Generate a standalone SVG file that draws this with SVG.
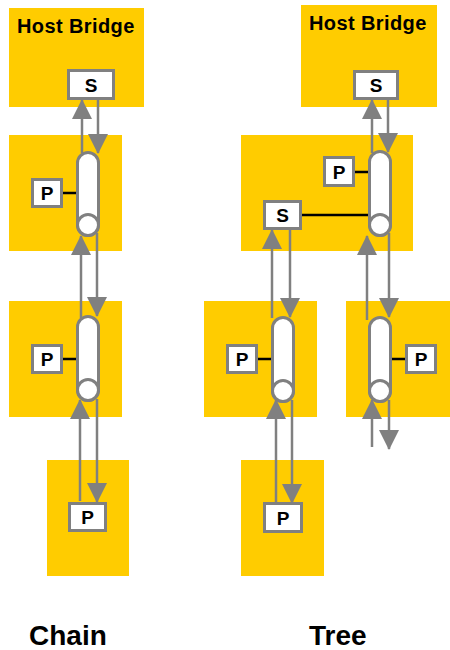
<svg xmlns="http://www.w3.org/2000/svg" width="450" height="650" viewBox="0 0 450 650">
<defs>
<style>
.panel{fill:#FFCC00;stroke:none}
.box{fill:#fff;stroke:#808080;stroke-width:3}
.cyl{fill:#fff;stroke:#808080;stroke-width:3}
.lbl{font-family:"Liberation Sans",Arial,sans-serif;font-weight:bold;fill:#000}
.bt{font-size:19px;text-anchor:middle}
.hb{font-size:20px;letter-spacing:0.4px}
.cap{font-size:28px}
.wire{stroke:#000;stroke-width:2.5;fill:none}
.conn{stroke:#808080;stroke-width:2.5;fill:none;marker-end:url(#ah)}
</style>
<marker id="ah" markerUnits="userSpaceOnUse" markerWidth="20" markerHeight="20" refX="19" refY="10" orient="auto">
<path d="M0,0 L20,10 L0,20 z" fill="#808080"/>
</marker>
</defs>
<rect width="450" height="650" fill="#fff"/>

<!-- panels -->
<g id="chain-host"><rect class="panel" x="9" y="8" width="135" height="99"/><text class="lbl hb" x="17" y="33">Host Bridge</text></g>
<g id="chain-dev1"><rect class="panel" x="9" y="135" width="113" height="116"/></g>
<g id="chain-dev2"><rect class="panel" x="9" y="301" width="113" height="116"/></g>
<g id="chain-dev3"><rect class="panel" x="47" y="460" width="82" height="116"/></g>
<g id="tree-host"><rect class="panel" x="301" y="5" width="136" height="102"/><text class="lbl hb" x="309" y="30">Host Bridge</text></g>
<g id="tree-switch"><rect class="panel" x="241" y="135" width="172" height="116"/></g>
<g id="tree-left"><rect class="panel" x="204" y="301" width="113" height="116"/></g>
<g id="tree-right"><rect class="panel" x="346" y="301" width="104" height="116"/></g>
<g id="tree-leaf"><rect class="panel" x="241" y="460" width="83" height="116"/></g>

<!-- wires from P/S to buses -->
<g id="wires">
<line class="wire" x1="63" y1="193" x2="78" y2="193"/>
<line class="wire" x1="63" y1="359" x2="78" y2="359"/>
<line class="wire" x1="355" y1="172" x2="370" y2="172"/>
<line class="wire" x1="302" y1="215" x2="370" y2="215"/>
<line class="wire" x1="258" y1="359" x2="273" y2="359"/>
<line class="wire" x1="390" y1="359" x2="405" y2="359"/>
</g>

<!-- chain nodes -->
<g id="chain-host-s"><rect class="box" x="68.5" y="70.5" width="45" height="28"/><text class="lbl bt" x="91" y="91.5">S</text></g>
<g id="chain-bus1"><rect class="cyl" x="77.5" y="152.5" width="21" height="83" rx="10.5"/><circle class="cyl" cx="88" cy="225" r="10.5"/></g>
<g id="chain-p1"><rect class="box" x="32.5" y="179.5" width="29" height="27"/><text class="lbl bt" x="47" y="200">P</text></g>
<g id="chain-bus2"><rect class="cyl" x="77.5" y="316.5" width="21" height="84" rx="10.5"/><circle class="cyl" cx="88" cy="390" r="10.5"/></g>
<g id="chain-p2"><rect class="box" x="32.5" y="345.5" width="29" height="27"/><text class="lbl bt" x="47" y="366">P</text></g>
<g id="chain-p3"><rect class="box" x="69.5" y="503.5" width="36" height="27"/><text class="lbl bt" x="87.5" y="524">P</text></g>

<!-- tree nodes -->
<g id="tree-host-s"><rect class="box" x="354.5" y="71.5" width="43" height="27"/><text class="lbl bt" x="376" y="91.5">S</text></g>
<g id="tree-bus-a"><rect class="cyl" x="369.5" y="151.5" width="21" height="84" rx="10.5"/><circle class="cyl" cx="380" cy="225" r="10.5"/></g>
<g id="tree-p-a"><rect class="box" x="324.5" y="157.5" width="29" height="28"/><text class="lbl bt" x="339" y="178.5">P</text></g>
<g id="tree-s-a"><rect class="box" x="264.5" y="201.5" width="36" height="27"/><text class="lbl bt" x="282.5" y="222">S</text></g>
<g id="tree-bus-l"><rect class="cyl" x="272.5" y="317.5" width="21" height="84" rx="10.5"/><circle class="cyl" cx="283" cy="391" r="10.5"/></g>
<g id="tree-p-l"><rect class="box" x="227.5" y="345.5" width="29" height="27"/><text class="lbl bt" x="242" y="366">P</text></g>
<g id="tree-bus-r"><rect class="cyl" x="369.5" y="317.5" width="21" height="84" rx="10.5"/><circle class="cyl" cx="380" cy="391" r="10.5"/></g>
<g id="tree-p-r"><rect class="box" x="406.5" y="345.5" width="29" height="27"/><text class="lbl bt" x="421" y="366">P</text></g>
<g id="tree-p-leaf"><rect class="box" x="264.5" y="503.5" width="37" height="28"/><text class="lbl bt" x="283" y="524.5">P</text></g>

<!-- connectors -->
<g id="connectors">
<path class="conn" d="M82,153 L82,100"/>
<path class="conn" d="M98,100 L98,153"/>
<path class="conn" d="M97,233 L97,316"/>
<path class="conn" d="M81,318 L81,236"/>
<path class="conn" d="M97,399 L97,502"/>
<path class="conn" d="M80,501 L80,400"/>

<path class="conn" d="M372,153 L372,100"/>
<path class="conn" d="M388,100 L388,152"/>
<path class="conn" d="M272,318 L272,230"/>
<path class="conn" d="M290,230 L290,317"/>
<path class="conn" d="M367,320 L367,236"/>
<path class="conn" d="M389,233 L389,317"/>
<path class="conn" d="M276,502 L276,400"/>
<path class="conn" d="M292,400 L292,503"/>
<path class="conn" d="M372,447 L372,400"/>
<path class="conn" d="M389,400 L389,449"/>
</g>

<g id="captions">
<text class="lbl cap" x="29" y="645">Chain</text>
<text class="lbl cap" x="309" y="645">Tree</text>
</g>
</svg>
